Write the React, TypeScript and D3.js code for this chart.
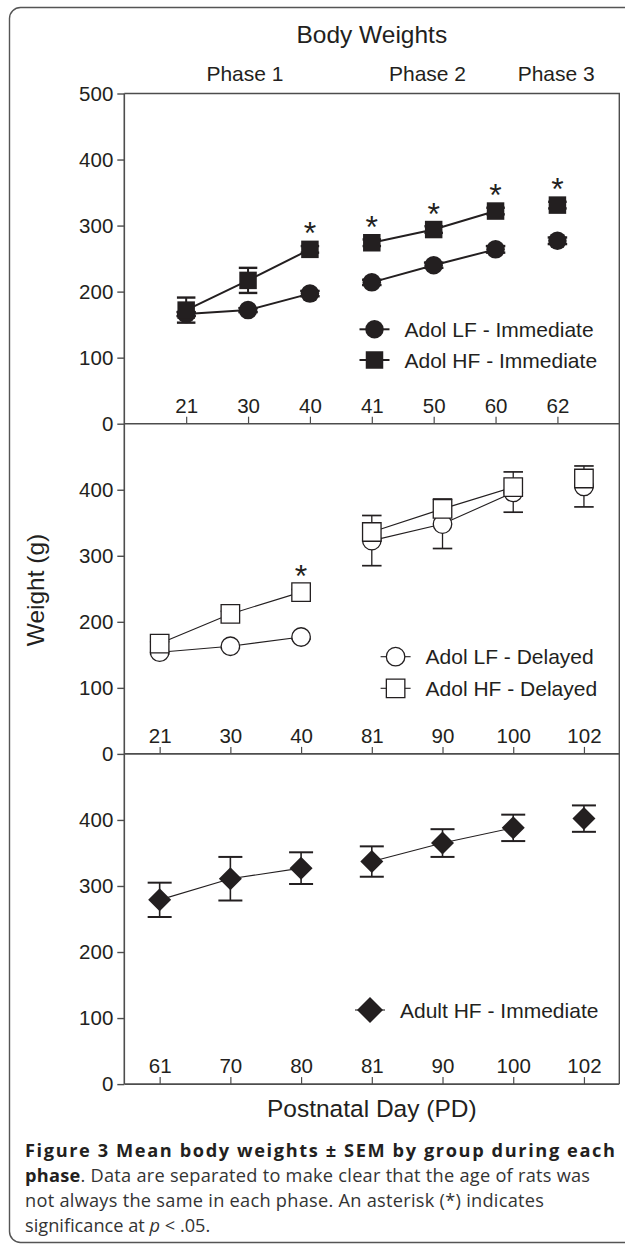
import React, { useEffect, useRef } from 'react';
import * as d3 from 'd3';

// x categories (postnatal day) per panel
const topDays = ['21', '30', '40', '41', '50', '60', '62'];
const midDays = ['21', '30', '40', '81', '90', '100', '102'];
const botDays = ['61', '70', '80', '81', '90', '100', '102'];

// Panel 1: immediate adolescent groups
const lfImmMean = [166, 172, 197, 214, 240, 264, 277];
const lfImmSem = [3, 3, 4, 4, 4, 5, 5];
const hfImmMean = [172, 217, 264, 274, 294, 322, 331];
const hfImmSem = [19, 19, 5, 5, 5, 5, 5];
const topStars = [false, false, true, true, true, true, true];

// Panel 2: delayed adolescent groups
const lfDelMean = [154, 163, 177, 323, 348, 396, 405];
const lfDelSem = [3, 3, 3, 38, 37, 30, 31];
const hfDelMean = [167, 212, 245, 336, 371, 404, 417];
const hfDelSem = [3, 4, 4, 25, 15, 23, 19];
const midStars = [false, false, true, false, false, false, false];

// Panel 3: adult group
const adultMean = [279, 311, 327, 337, 365, 388, 402];
const adultSem = [26, 33, 24, 23, 21, 20, 20];

const yTicks = [0, 100, 200, 300, 400, 500];
const phaseLabels = ['Phase 1', 'Phase 2', 'Phase 3'];
const phasePos = [0.95, 3.9, 5.98];
// points joined by a line within each phase; the last point stands alone
const segments = [[0, 1, 2], [3, 4, 5]];

const INK = '#231f20';
const AXIS = '#4d4d4d';
const FONT = "'Liberation Sans', Arial, sans-serif";

type Shape = 'circle' | 'square' | 'diamond';
interface Series {
  name: string;
  mean: number[];
  sem: number[];
  shape: Shape;
  filled: boolean;
  size: number;
  errDir: 'both' | 'up' | 'down';
}

const App: React.FC = () => {
  const svgRef = useRef<SVGSVGElement>(null);

  useEffect(() => {
    if (!svgRef.current) return;
    const svg = d3.select(svgRef.current);
    svg.selectAll('*').remove();

    const left = 124.3;
    const right = 619.3;
    const panelH = 330.2;
    const tops = [93.5, 93.5 + panelH, 93.5 + 2 * panelH];

    // outer figure frame (runs off the right edge)
    svg.append('rect')
      .attr('x', 9.5).attr('y', 7.5)
      .attr('width', 660).attr('height', 1235)
      .attr('rx', 11)
      .attr('fill', 'none')
      .attr('stroke', '#555')
      .attr('stroke-width', 1.4);

    const markerPath = (shape: Shape, size: number) => {
      if (shape === 'circle') return d3.symbol(d3.symbolCircle, Math.PI * (size / 2) ** 2)()!;
      if (shape === 'square') return d3.symbol(d3.symbolSquare, size * size)()!;
      const s = size / Math.SQRT2;
      return d3.symbol(d3.symbolSquare, s * s)()!;
    };

    const drawMarker = (g: any, shape: Shape, size: number, filled: boolean, cx: number, cy: number, sw: number) => {
      g.append('path')
        .attr('d', markerPath(shape, size))
        .attr('transform', `translate(${cx},${cy})${shape === 'diamond' ? ' rotate(45)' : ''}`)
        .attr('fill', filled ? INK : '#fff')
        .attr('stroke', INK)
        .attr('stroke-width', sw);
    };

    const drawPanel = (
      idx: number,
      domain: [number, number],
      days: string[],
      series: Series[],
      lineW: number,
      errW: number,
      stars: boolean[] | null,
      legendX: number,
      legendY: number[],
    ) => {
      const top = tops[idx];
      const bottom = top + panelH;
      const x = d3.scaleLinear().domain(domain).range([left, right]);
      const y = d3.scaleLinear().domain([0, 500]).range([bottom, top]);
      const g = svg.append('g');

      // y axis
      const yAxis = g.append('g')
        .attr('transform', `translate(${left},0)`)
        .call(d3.axisLeft(y).tickValues(idx === 0 ? yTicks : yTicks.slice(0, 5)).tickSize(7).tickPadding(4));
      yAxis.select('.domain').remove();
      yAxis.selectAll('line').attr('stroke', AXIS).attr('stroke-width', 1.4);
      yAxis.selectAll('text').attr('fill', INK).attr('font-family', FONT).attr('font-size', 20.5);

      // x axis with inward ticks and labels above
      const xAxis = g.append('g')
        .attr('transform', `translate(0,${bottom})`)
        .call(d3.axisTop(x).tickValues(d3.range(days.length)).tickFormat((d: any) => days[d]).tickSize(7).tickPadding(4));
      xAxis.select('.domain').remove();
      xAxis.selectAll('line').attr('stroke', AXIS).attr('stroke-width', 1.2);
      xAxis.selectAll('text').attr('fill', INK).attr('font-family', FONT).attr('font-size', 20.5);

      g.append('line')
        .attr('x1', left).attr('x2', right)
        .attr('y1', bottom).attr('y2', bottom)
        .attr('stroke', AXIS).attr('stroke-width', 1.6);

      // connecting lines within phases
      series.forEach(s => {
        segments.forEach(seg => {
          g.append('path')
            .attr('d', d3.line<number>().x(i => x(i)).y(i => y(s.mean[i]))(seg)!)
            .attr('fill', 'none')
            .attr('stroke', INK)
            .attr('stroke-width', lineW);
        });
      });

      // error bars
      series.forEach(s => {
        const cap = s.size + 1;
        s.mean.forEach((m, i) => {
          const cx = x(i);
          const ends: number[] = [];
          if (s.errDir !== 'down') ends.push(m + s.sem[i]);
          if (s.errDir !== 'up') ends.push(m - s.sem[i]);
          ends.forEach(v => {
            g.append('line')
              .attr('x1', cx).attr('x2', cx)
              .attr('y1', y(m)).attr('y2', y(v))
              .attr('stroke', INK).attr('stroke-width', errW);
            g.append('line')
              .attr('x1', cx - cap / 2).attr('x2', cx + cap / 2)
              .attr('y1', y(v)).attr('y2', y(v))
              .attr('stroke', INK).attr('stroke-width', errW + 0.4);
          });
        });
      });

      // markers
      series.forEach(s => {
        s.mean.forEach((m, i) => drawMarker(g, s.shape, s.size, s.filled, x(i), y(m), s.filled ? 0 : 1.3));
      });

      // significance asterisks above the HF series
      if (stars) {
        const hf = series[series.length - 1];
        stars.forEach((st, i) => {
          if (!st) return;
          g.append('text')
            .attr('x', x(i))
            .attr('y', y(hf.mean[i]) - (idx === 0 ? 5 : 5))
            .attr('text-anchor', 'middle')
            .attr('font-family', FONT)
            .attr('font-size', 32)
            .attr('fill', INK)
            .text('*');
        });
      }

      // legend
      series.forEach((s, k) => {
        const ly = legendY[k];
        g.append('line')
          .attr('x1', legendX - 15).attr('x2', legendX + 15)
          .attr('y1', ly).attr('y2', ly)
          .attr('stroke', INK).attr('stroke-width', lineW);
        drawMarker(g, s.shape, s.shape === 'diamond' ? s.size + 3 : s.size, s.filled, legendX, ly, s.filled ? 0 : 1.3);
        g.append('text')
          .attr('x', legendX + 30)
          .attr('y', ly + 7.5)
          .attr('font-family', FONT)
          .attr('font-size', 21)
          .attr('fill', INK)
          .text(s.name);
      });

      return x;
    };

    const xTop = drawPanel(0, [-1, 7], topDays, [
      { name: 'Adol LF - Immediate', mean: lfImmMean, sem: lfImmSem, shape: 'circle', filled: true, size: 18.5, errDir: 'both' },
      { name: 'Adol HF - Immediate', mean: hfImmMean, sem: hfImmSem, shape: 'square', filled: true, size: 17.5, errDir: 'both' },
    ], 2, 2, topStars, 374.5, [329.3, 360]);

    drawPanel(1, [-0.5, 6.5], midDays, [
      { name: 'Adol LF - Delayed', mean: lfDelMean, sem: lfDelSem, shape: 'circle', filled: false, size: 18.5, errDir: 'down' },
      { name: 'Adol HF - Delayed', mean: hfDelMean, sem: hfDelSem, shape: 'square', filled: false, size: 18.5, errDir: 'up' },
    ], 1.1, 1.3, midStars, 395.6, [656.7, 688.3]);

    drawPanel(2, [-0.5, 6.5], botDays, [
      { name: 'Adult HF - Immediate', mean: adultMean, sem: adultSem, shape: 'diamond', filled: true, size: 23, errDir: 'both' },
    ], 1.1, 1.6, null, 370, [1010]);

    // plot box: y axis, top and right edges
    svg.append('line')
      .attr('x1', left).attr('x2', left)
      .attr('y1', tops[0]).attr('y2', tops[2] + panelH)
      .attr('stroke', AXIS).attr('stroke-width', 1.6);
    svg.append('path')
      .attr('d', `M${left},${tops[0]}H${right}V${tops[2] + panelH}`)
      .attr('fill', 'none')
      .attr('stroke', AXIS).attr('stroke-width', 1.4);

    // titles
    const mid = (left + right) / 2;
    svg.append('text')
      .attr('x', mid).attr('y', 42.5)
      .attr('text-anchor', 'middle')
      .attr('font-family', FONT).attr('font-size', 24.5).attr('fill', INK)
      .text('Body Weights');

    phaseLabels.forEach((p, i) => {
      svg.append('text')
        .attr('x', xTop(phasePos[i])).attr('y', 81)
        .attr('text-anchor', 'middle')
        .attr('font-family', FONT).attr('font-size', 21).attr('fill', INK)
        .text(p);
    });

    svg.append('text')
      .attr('x', mid).attr('y', 1117)
      .attr('text-anchor', 'middle')
      .attr('font-family', FONT).attr('font-size', 24.5).attr('fill', INK)
      .text('Postnatal Day (PD)');

    svg.append('text')
      .attr('transform', 'translate(44,590) rotate(-90)')
      .attr('text-anchor', 'middle')
      .attr('font-family', FONT).attr('font-size', 24.5).attr('fill', INK)
      .text('Weight (g)');

    // caption
    const cap = svg.append('g')
      .attr('font-family', "'Open Sans', sans-serif")
      .attr('font-size', 18.2)
      .attr('fill', '#333');
    cap.append('text')
      .attr('x', 25).attr('y', 1157)
      .attr('font-weight', 'bold')
      .attr('fill', INK)
      .attr('textLength', 590)
      .attr('lengthAdjust', 'spacing')
      .text('Figure 3 Mean body weights \u00b1 SEM by group during each');
    const l2 = cap.append('text').attr('x', 25).attr('y', 1182)
      .attr('textLength', 565).attr('lengthAdjust', 'spacing');
    l2.append('tspan').attr('font-weight', 'bold').attr('fill', INK).text('phase');
    l2.append('tspan').text('. Data are separated to make clear that the age of rats was');
    cap.append('text').attr('x', 25).attr('y', 1207)
      .attr('textLength', 519).attr('lengthAdjust', 'spacing')
      .text('not always the same in each phase. An asterisk (*) indicates');
    const l4 = cap.append('text').attr('x', 25).attr('y', 1232);
    l4.append('tspan').text('significance at ');
    l4.append('tspan').attr('font-style', 'italic').text('p');
    l4.append('tspan').text(' < .05.');
  }, []);

  return (
    <div style={{ position: 'absolute', left: 0, top: 0 }}>
      <svg ref={svgRef} width={625} height={1246} style={{ display: 'block', background: '#fff' }} />
    </div>
  );
};

export default App;
